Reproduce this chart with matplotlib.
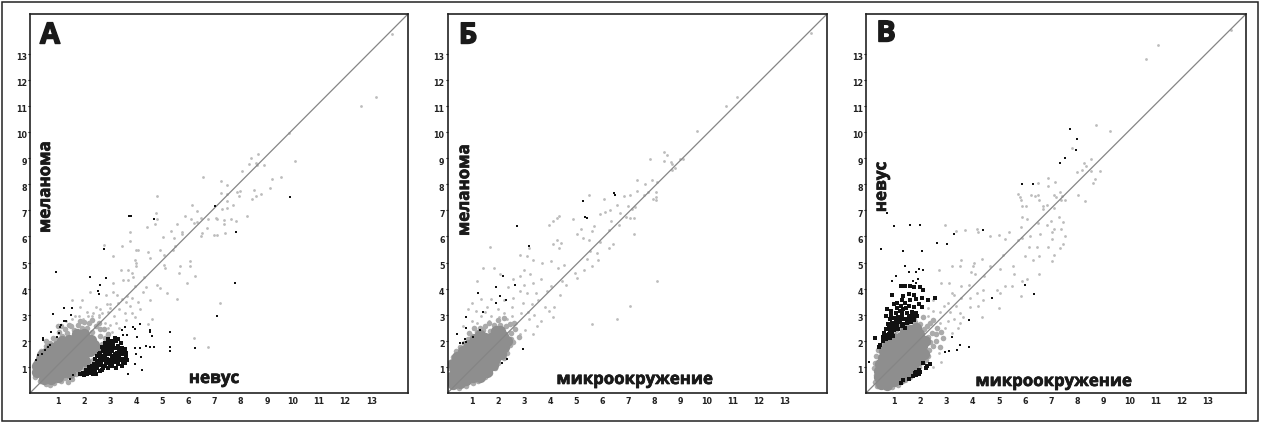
import matplotlib
matplotlib.use("Agg")
import matplotlib.pyplot as plt
import matplotlib.patheffects as pe
from matplotlib.patches import Rectangle
from matplotlib.transforms import ScaledTranslation

W, H = 1262, 424
tick_values = list(range(1, 14))
panel_letters = ["А", "Б", "В"]

# ---- Panel A: nevus (x) vs melanoma (y)
a_core = [(.45,.55),(.72,.52),(.98,.6),(.2,.8),(.46,.82),(.7,.78),(.96,.82),(1.22,.8),(1.45,.78),(.18,1.05),(.44,1.07),(.7,1.03),
 (.95,1.06),(1.2,1.03),(1.46,1.05),(1.72,1.02),(.33,1.3),(.6,1.28),(.85,1.32),(1.1,1.29),(1.35,1.31),(1.6,1.28),(1.86,1.3),(2.02,1.22),
 (.55,1.55),(.8,1.53),(1.05,1.56),(1.3,1.54),(1.55,1.56),(1.8,1.53),(2.05,1.56),(2.24,1.62),(.95,1.8),(1.2,1.78),(1.45,1.81),(1.7,1.79),
 (1.95,1.82),(2.2,1.8),(1.42,2.03),(1.66,2.05),(1.9,2.04),(2.1,2.05),(2.25,2.02),(2.38,1.85),(2.0,2.25),(1.72,2.25),(1.15,1.98),(.72,1.72),(.4,1.45),(2.42,1.68)]
a_halo = [(.1,.62),(.1,.98),(.14,1.18),(.3,.45),(.35,1.6),(.52,.35),(.52,1.8),(.68,1.9),(.85,.38),(.9,2.05),(1.1,.45),(1.15,2.18),(1.28,.58),(1.35,2.3),
 (1.55,.55),(1.62,2.42),(1.7,.72),(1.85,.78),(1.9,2.5),(1.98,.95),(2.1,2.5),(2.2,1.1),(2.3,2.35),(2.35,1.28),(2.6,2.2),(2.55,1.5),(2.7,1.88),(2.45,2.55),
 (2.78,2.1),(2.2,2.68),(2.0,2.72),(1.75,2.62),(1.5,2.55),(1.25,2.45),(1.05,2.35),(1.0,2.55),(2.9,2.25),(2.62,2.45),(.8,2.1),(1.85,2.75),(2.3,2.8),(2.55,2.7),(2.75,2.45),(.55,2.0),
 (2.65,1.65),(1.4,2.6),(1.1,2.55),(.25,1.4),(1.38,.42),(.7,.32)]
a_gray = [(13.18,11.33),(12.59,10.99),(13.79,13.77),(9.86,9.96),(10.09,8.87),(8.67,9.15),(8.38,9.0),(8.32,8.78),(8.58,8.83),(8.62,8.74),(8.87,8.73),
 (8.06,8.51),(6.56,8.27),(7.26,8.13),(7.46,7.96),(7.23,7.68),(7.46,7.62),(7.87,7.72),(7.96,7.74),(7.94,7.55),(8.51,7.77),(9.18,8.19),(9.54,8.28),
 (9.13,7.87),(8.77,7.62),(8.58,7.53),(8.41,7.45),(4.79,7.53),(6.12,7.21),(7.49,7.36),(7.29,7.06),(7.49,7.08),(7.71,7.19),(6.33,6.96),(4.76,6.91),
 (5.85,6.78),(4.79,6.65),(6.46,6.72),(6.33,6.56),(6.21,6.53),(6.08,6.65),(6.74,6.65),(7.04,6.72),(7.1,6.65),(7.36,6.63),(7.62,6.65),(7.82,6.59),
 (8.23,6.78),(4.73,6.46),(4.41,6.36),(5.56,6.46),(3.74,6.18),(5.31,6.21),(5.73,6.17),(5.76,6.1),(6.72,6.33),(6.53,6.14),(6.46,6.01),(7.36,6.46),
 (7.38,6.14),(6.97,6.04),(7.1,6.04),(5.03,5.96),(5.44,5.94),(2.76,5.68),(3.44,5.64),(3.76,5.81),(3.99,5.49),(4.08,5.49),(4.46,5.42),(4.91,5.49),
 (3.95,5.1),(3.99,4.97),(3.99,4.87),(3.12,5.23),(3.4,4.72),(3.69,4.72),(3.5,4.33),(3.69,4.33),(3.82,4.59),(3.88,4.46),(4.53,5.17),(5.04,5.29),
 (5.42,5.49),(5.49,5.62),(5.1,4.78),(5.04,4.91),(5.62,4.59),(6.06,5.04),(6.06,4.87),(5.68,4.85),(6.26,4.49),(5.94,4.23),(4.78,4.14),(4.91,4.01),
 (5.17,3.82),(5.55,3.59),(7.22,3.46),(6.19,2.12),(6.73,1.77),(4.27,3.88),(4.08,3.5),(4.53,3.56),(1.9,3.56),(1.55,3.56),(2.22,3.88),(3.12,3.88),
 (3.25,3.75),(2.86,3.42),(3,3.42),(2.6,3.2),(3.75,3.32),(3.82,3.05),(4.14,3.2),(1.85,3.3),(2.1,3.12),(2.3,2.95),(2.45,3.3),(2.7,3.05),(2.9,3.1),
 (3.15,2.95),(3.35,3.2),(3.55,3.05),(3.6,2.8),(3.95,2.9),(4.6,2.85),(4.45,2.65),(1.8,2.95),(1.95,2.85),(2.15,2.95),(2.35,3.05),(2.55,2.9),(2.8,2.7),
 (3,2.6),(3.2,2.7),(3.35,2.5),(3.05,2.35),(2.9,2.5),(1.55,2.85),(1.65,2.95),(1.3,2.75),(3.45,3.6),(3.1,4.2),(2.85,3.75),(3.65,3.7),(4.35,4.05),
 (3.95,4.1),(4.3,4.45),(3.3,3.45),(3.6,3.5),(3.85,3.65),(2.55,2.98),(2.98,3.25)]
a_black = [(.91,4.62),(2.22,4.44),(2.82,4.42),(2.6,4.14),(2.54,3.92),(2.58,3.8),(1.22,3.27),(1.53,3.24),(.81,3.01),(1.23,2.77),(1.32,2.77),(1.51,2.99),
 (1.13,2.6),(1.06,2.52),(.74,2.35),(1.04,2.28),(.96,2.15),(.42,2.09),(.42,2.02),(.49,1.64),(.4,1.49),(.23,1.45),(.14,1.26),(.68,1.83),(.6,1.78),
 (5.29,2.35),(4.53,2.41),(4.53,2.32),(4.59,2.18),(3.56,2.54),(3.88,2.54),(3.95,2.45),(3.44,2.41),(4.14,2.63),(4.01,2.15),(3.63,2.22),(3.48,2.22),
 (4.37,1.79),(4.53,1.77),(4.69,1.76),(5.27,1.77),(5.27,1.62),(6.26,1.74),(3.95,1.71),(4.12,1.73),(3.99,1.51),(4.18,1.38),(3.95,1.13),(4.2,.9),(3.69,.72),
 (1.45,.55),(1.58,.68),(7.77,4.23),(7.09,2.95),(7.81,6.15),(2.76,5.51),(3.73,6.77),(3.8,6.77),(4.66,6.65),(7.03,7.15),(9.88,7.5)]
a_black_dense = [(1.85,.72),(1.95,.78),(2.0,.68),(2.1,.72),(2.15,.85),(2.05,.9),(2.25,.78),(2.35,.72),(2.45,.72),(2.3,.92),(2.42,.88),(2.2,1.0),(2.5,.95),(2.6,.85),(2.72,.95),
 (2.55,1.08),(2.38,1.12),(2.66,1.1),(2.78,1.02),(2.9,.95),(3.05,1.02),(3.2,.95),(3.0,1.12),(2.85,1.15),(2.72,1.25),(2.52,1.22),(2.62,1.35),(2.42,1.32),
 (2.88,1.32),(3.02,1.28),(3.15,1.2),(3.3,1.12),(3.45,1.05),(3.55,1.15),(3.38,1.25),(3.5,1.32),(3.65,1.25),(3.25,1.38),(3.1,1.42),(2.95,1.48),(2.78,1.48),
 (2.62,1.55),(2.5,1.42),(3.4,1.48),(3.55,1.48),(3.62,1.4),(3.25,1.55),(3.05,1.6),(2.88,1.65),(2.72,1.62),(2.82,1.78),(3.0,1.75),(3.15,1.72),(3.35,1.65),
 (3.45,1.72),(3.58,1.68),(3.28,1.8),(3.12,1.88),(2.95,1.9),(3.22,1.98),(3.05,2.0),(3.3,2.05),(3.4,1.9),(3.18,2.12),(2.9,2.05),(3.62,1.55),(2.68,1.75),
 (2.28,1.05),(2.48,1.15),(2.6,1.22),(2.8,1.38),(2.95,1.22),(3.1,1.32),(3.22,1.28),(2.7,1.42),(2.55,1.5),(2.85,1.55),(3.0,1.52),(3.18,1.48),(3.32,1.42),(2.95,1.68),(3.1,1.78),(2.78,1.9),
 (3.38,1.55),(3.5,1.6),(3.5,1.2),(3.3,1.72),(2.9,1.82),(3.05,1.42),(2.4,1.0),(2.68,.88),(2.1,.82)]

# ---- Panel B: microenvironment (x) vs melanoma (y)
b_core = [(.3,.35),(.55,.38),(.8,.5),(1.05,.6),(.22,.6),(.47,.62),(.72,.65),(.97,.75),(1.22,.82),(1.45,.98),(.35,.87),(.6,.9),(.85,.93),(1.1,.97),(1.35,1.08),
 (1.6,1.15),(.48,1.12),(.73,1.15),(.98,1.18),(1.23,1.22),(1.48,1.28),(1.72,1.35),(1.88,1.32),(.68,1.38),(.92,1.4),(1.17,1.43),(1.42,1.47),(1.67,1.52),(1.92,1.5),
 (.9,1.62),(1.15,1.65),(1.4,1.68),(1.65,1.72),(1.9,1.72),(2.08,1.7),(1.15,1.85),(1.4,1.9),(1.65,1.92),(1.9,1.95),(2.12,1.92),(1.5,2.1),(1.75,2.12),(2.0,2.15),(2.2,2.2),(1.95,2.38),
 (.3,1.12),(.45,1.38),(.65,1.6),(.88,1.85),(1.12,2.05),(1.32,2.22),(2.12,1.5),(2.25,1.75),(1.8,1.08),(1.58,.82),(1.32,.62),(2.35,2.0),(2.1,2.38)]
b_halo = [(.12,.42),(.15,.7),(.14,.95),(.18,1.2),(.3,1.38),(.38,1.6),(.55,1.78),(.72,1.9),(.85,2.05),(1.0,2.2),(1.2,2.35),(1.42,2.4),(1.7,2.38),(1.85,2.62),
 (2.1,2.62),(2.3,2.58),(2.5,2.3),(2.52,2.05),(2.45,1.85),(2.6,1.95),(2.35,1.55),(2.22,1.35),(2.02,1.15),(1.88,.95),(1.72,.75),(1.5,.62),(1.25,.45),(1.05,.38),(.78,.28),
 (.5,.2),(2.65,2.45),(2.8,2.15),(1.52,2.55),(1.3,2.5),(1.65,2.7),(2.02,2.78),(2.25,2.88),(2.45,2.65),(2.62,2.7),(1.1,2.5),(.9,2.3)]
b_gray = [(8.69,8.53),(14.0,13.8),(11.15,11.33),(10.75,11.0),(9.65,10.05),(8.35,9.25),(8.5,9.1),(8.97,8.98),(9.1,8.95),(7.85,8.95),(8.35,8.88),(8.62,8.85),(8.68,8.78),
 (8.8,8.63),(7.32,8.15),(7.35,7.75),(7.9,8.15),(7.65,8.0),(8.1,8.08),(8.05,7.72),(7.75,7.7),(8.05,7.5),(8.08,7.4),(7.95,7.42),(7.6,7.58),(5.5,7.6),(6.05,7.45),(6.85,7.55),(7.05,7.57),(6.55,7.2),
 (7.0,7.15),(7.15,7.05),(7.25,7.12),(6.3,7.02),(6.1,6.95),(6.9,6.75),(5.9,6.85),(6.7,6.88),(7.05,6.72),(7.2,6.72),(4.35,6.8),(4.1,6.6),(4.25,6.7),(4.9,6.68),(3.95,6.45),(5.7,6.4),
 (6.35,6.6),(6.65,6.45),(7.2,6.1),(6.25,6.25),(5.6,6.2),(5.2,6.3),(5.05,6.1),(5.25,5.95),(5.5,5.85),(6.25,5.55),(6.4,5.7),(5.9,5.8),(1.72,5.6),(4.1,5.7),(4.25,5.85),(4.42,5.75),(4.35,5.55),
 (5.42,5.15),(5.85,5.1),(5.55,5.45),(5.8,5.35),(2.85,5.3),(3.2,5.55),(3.1,5.25),(3.35,5.1),(3.7,5.0),(4.05,5.05),(4.3,4.8),(4.55,4.9),(5.6,4.85),(5.3,4.7),(4.95,4.6),(5.05,4.4),(4.45,4.3),
 (4.6,4.15),(8.1,4.3),(7.05,3.35),(5.6,2.65),(6.55,2.85),(1.45,4.8),(1.85,4.8),(1.2,4.3),(2.1,4.55),(2.6,4.35),(2.85,4.5),(3.0,4.7),(3.25,4.55),(3.65,4.35),(3.35,4.2),(3.0,4.15),(2.85,3.9),
 (3.1,3.85),(3.45,3.85),(3.9,3.9),(4.05,4.1),(4.4,3.75),(3.8,3.3),(4.15,3.3),(3.95,3.15),(4.1,2.9),(3.65,2.75),(3.3,3.4),(2.95,3.45),(2.6,3.65),(2.55,3.3),(2.25,3.55),(1.75,3.6),(1.35,3.6),(1.0,3.45),
 (.85,3.2),(1.15,3.15),(1.5,3.1),(1.75,2.95),(2.0,3.2),(2.25,3.05),(2.55,2.95),(2.9,3.05),(3.2,2.85),(3.5,2.55),(3.35,2.25),(3.05,2.4),(2.85,2.25),(2.7,2.7),(2.35,2.85),(2.05,2.9),(1.65,2.75),
 (1.35,2.95),(1.2,2.7),(1.05,2.45),(1.5,2.55),(1.0,2.75),(.65,2.55),(3.4,3.0),(3.55,3.55),(2.4,4.05),(1.6,3.3),(3.15,3.1)]
b_black = [(6.45,7.65),(6.5,7.6),(5.25,7.35),(5.35,6.75),(5.4,6.7),(2.75,6.4),(3.2,5.65),(2.2,4.5),(2.65,4.15),(1.95,4.05),(2.1,3.7),(2.3,3.55),(1.25,3.85),(1.93,3.45),(1.45,3.1),(.8,2.9),(.8,2.5),(1.3,2.4),(.45,2.25),
 (.75,2.05),(1.05,2.15),(.55,1.9),(.68,1.9),(.8,1.95),(2.95,1.7),(2.35,1.3),(2.18,1.15)]

# ---- Panel C: microenvironment (x) vs nevus (y)
c_core = [(.48,.35),(.72,.3),(.98,.45),(1.2,.55),(.42,.6),(.67,.58),(.92,.65),(1.16,.75),(1.38,.85),(.42,.85),(.66,.85),(.9,.88),(1.15,.98),(1.4,1.05),(1.6,1.15),(.45,1.1),(.68,1.1),(.92,1.13),(1.17,1.2),
 (1.42,1.27),(1.66,1.35),(1.85,1.4),(.55,1.35),(.78,1.35),(1.02,1.38),(1.27,1.45),(1.52,1.5),(1.76,1.58),(1.98,1.55),(.62,1.6),(.87,1.62),(1.12,1.65),(1.37,1.7),(1.62,1.75),(1.87,1.78),(2.05,1.8),(.75,1.85),
 (1.0,1.88),(1.25,1.92),(1.5,1.95),(1.75,2.0),(1.98,2.02),(1.0,2.12),(1.25,2.15),(1.5,2.18),(1.75,2.22),(1.95,2.25),(1.4,2.38),(1.65,2.42),(1.85,2.48),(2.12,1.5),(2.18,2.0),(1.95,1.25),(1.72,.98),(1.52,.78),(1.3,.62)]
c_halo = [(.25,.42),(.28,.7),(.22,.95),(.25,1.15),(.3,1.4),(.38,1.65),(.52,1.85),(.62,2.05),(.82,2.25),(1.05,2.4),(1.25,2.55),(1.5,2.65),(1.8,2.72),(2.0,2.65),(2.12,2.45),(2.3,2.15),(2.38,1.95),(2.32,1.65),(2.28,1.4),
 (2.1,1.2),(1.95,1.0),(1.75,.82),(1.62,.62),(1.42,.48),(1.15,.3),(.9,.22),(.32,.25),(2.5,1.8),(2.6,2.0),(2.45,2.3),(2.65,2.5),(2.35,2.7),(2.8,2.35),(2.85,2.1),(2.5,2.8),(2.1,2.9),(1.75,2.85),(2.75,1.75),(1.12,2.6),(2.6,2.25),(2.25,2.55),(2.2,1.25)]
c_gray = [(13.9,13.9),(11.1,13.35),(10.65,12.8),(8.72,10.25),(9.25,10.05),(7.82,9.4),(8.55,8.95),(8.25,8.8),(8.35,8.7),(8.55,8.5),(8.0,8.45),(8.2,8.55),(8.9,8.5),(8.7,8.2),(8.62,8.05),(6.9,8.25),(7.15,8.1),
 (6.5,8.05),(6.9,7.95),(7.35,7.7),(7.42,7.55),(7.12,7.6),(8.05,7.6),(8.3,7.35),(5.75,7.62),(5.85,7.4),(5.8,7.5),(6.25,7.6),(6.4,7.55),(6.5,7.6),(6.55,7.4),(7.2,7.5),(7.4,7.4),(7.55,7.38),(5.9,7.15),(6.05,7.15),
 (6.7,7.15),(6.85,7.2),(6.7,7.05),(7.1,7.1),(7.3,6.75),(7.45,6.55),(5.9,6.75),(6.1,6.65),(6.5,6.5),(6.85,6.45),(7.0,6.6),(7.1,6.3),(7.05,6.15),(7.4,6.3),(6.2,6.0),(5.9,5.95),(6.6,6.1),(5.25,5.9),(7.05,5.9),(7.55,6.0),
 (7.35,5.55),(7.45,5.7),(2.95,6.45),(3.35,6.2),(3.7,6.25),(4.15,6.3),(4.2,6.15),(4.65,6.0),(5.0,6.05),(5.4,6.15),(5.85,6.35),(5.75,5.85),(6.45,5.6),(6.9,5.6),(6.15,5.6),(6.0,5.25),(6.55,5.25),(6.3,5.1),(7.1,5.3),(7.05,5.05),
 (5.15,5.3),(4.35,5.15),(4.05,5.0),(4.0,4.85),(3.55,5.1),(2.7,4.7),(3.2,4.85),(3.5,4.85),(3.95,4.65),(4.1,4.55),(4.45,4.5),(4.65,4.85),(5.55,4.85),(5.05,4.75),(5.6,4.55),(5.9,4.3),(6.1,4.35),(6.55,4.55),(5.5,4.1),(5.25,4.1),
 (4.95,3.95),(5.05,3.85),(5.85,3.7),(4.4,3.95),(3.85,4.15),(3.55,4.1),(3.1,4.2),(2.8,4.2),(3.2,3.85),(3.3,3.75),(3.55,3.65),(3.9,3.65),(4.15,3.85),(4.4,3.55),(3.9,3.3),(4.2,3.35),(5.0,3.25),(4.35,2.9),(3.35,3.35),
 (3.5,3.05),(3.15,3.1),(2.9,3.35),(2.75,3.1),(3.65,2.9),(3.3,2.85),(3.05,2.75),(2.95,2.5),(2.75,2.7),(3.05,3.45),(2.5,3.55),(2.5,3.15),(2.3,2.95),(3.2,2.3),(3.45,2.5),(3.5,2.7),(2.7,1.55),(2.8,1.2),(2.5,1.0),(2.3,3.25)]
c_black = [(7.75,10.1),(8.0,9.72),(7.95,9.3),(7.35,8.8),(7.55,9.0),(5.9,8.0),(.72,6.9),(.98,6.4),(2.0,6.45),(1.6,6.45),(3.3,6.1),(2.65,5.75),(3.0,5.7),(4.4,6.25),(6.3,8.0),(.5,5.5),(1.32,5.45),(2.08,5.45),(1.42,4.85),(1.55,4.65),
 (1.95,4.75),(2.1,4.7),(1.85,4.65),(.92,4.3),(1.07,4.5),(1.7,4.3),(1.9,4.35),(1.85,4.2),(.02,1.2),(3.85,1.75),(3.4,1.65),(3.5,1.85),(3.2,2.15),(2.95,1.58),(3.1,1.62),(3.85,2.8),(4.75,3.65),(6.0,4.15),(6.35,3.8)]
c_black_dense = [(1.27,4.1),(1.4,4.1),(1.6,4.1),(1.75,4.05),(2.0,4.05),(2.1,3.95),(.9,3.75),(1.35,3.7),(1.3,3.55),(1.55,3.8),(1.75,3.75),(1.85,3.6),(2.05,3.65),(2.3,3.55),
 (2.55,3.65),(1.0,3.4),(1.12,3.45),(1.25,3.35),(1.42,3.45),(1.6,3.55),(1.55,3.35),(1.75,3.3),(1.95,3.4),(2.05,3.3),(.72,3.2),(.88,3.15),(1.05,3.05),(1.2,3.15),(1.35,3.2),(1.5,3.05),(1.68,3.1),(1.82,3.05),(1.88,2.95),(.7,2.95),
 (.82,2.85),(1.0,2.88),(1.15,2.9),(1.28,2.95),(1.45,2.85),(1.6,2.85),(1.75,2.78),(.75,2.65),(.92,2.7),(1.05,2.6),(1.2,2.72),(1.35,2.65),(1.5,2.68),(1.42,2.5),(.7,2.45),(.85,2.4),(1.0,2.42),(1.15,2.45),(.62,2.3),(.8,2.25),(.95,2.2),
 (.85,2.1),(.55,2.15),(.7,2.05),(.25,2.1),(.58,2.0),(.45,1.85),(.42,1.75),(2.1,1.15),(2.25,1.05),(2.35,1.1),(2.2,.95),(1.95,.9),(1.85,.8),(1.95,.72),(1.82,.68),(1.7,.65),(1.55,.55),(1.32,.5),(1.25,.4),
 (1.12,2.58),(1.28,2.55),(1.38,2.82),(.95,2.55),(1.65,2.72),(1.55,2.95),(1.72,2.95),(1.1,3.25),(1.3,3.05),(1.45,3.25),(.88,2.98),(1.22,2.85),(1.05,2.75),(.78,2.55),(.9,2.32),(.72,2.22),(2.0,.82),(1.78,.75)]

# ---- geometry of the three frames, in pixels (left, right, x=0 position)
frames = [(30, 408, 32.0), (447.5, 827, 445.6), (866, 1246, 868.2)]
top, bottom = 14, 393
px_per_unit = 26.1

fig = plt.figure(figsize=(W / 100, H / 100), dpi=100, facecolor="white")
fig.add_artist(Rectangle((2 / W, 1 - 421 / H), 1256 / W, 419 / H, transform=fig.transFigure,
                         fill=False, ec="#222222", lw=1.1))

def split(pairs):
    return [p[0] for p in pairs], [p[1] for p in pairs]

panels = [(a_core, a_halo, a_gray, a_black, a_black_dense), (b_core, b_halo, b_gray, b_black, []),
          (c_core, c_halo, c_gray, c_black, c_black_dense)]
for (l, r, x0), (core, halo, gray, black, dense) in zip(frames, panels):
    ax = fig.add_axes([l / W, 1 - bottom / H, (r - l) / W, (bottom - top) / H])
    xlim = ((l - x0) / px_per_unit, (r - x0) / px_per_unit)
    ylim = (0, (bottom - top) / px_per_unit)
    ax.set_xlim(*xlim)
    ax.set_ylim(*ylim)
    ax.scatter(*split(gray), s=4, c="#bcbcbc", linewidths=0, zorder=2)
    ax.scatter(*split(halo), s=16, c="#ababab", linewidths=0, zorder=2)
    ax.scatter(*split(core), s=66, c="#8e8e8e", linewidths=0, zorder=2.1)
    ax.plot(xlim, ylim, color="#858585", lw=0.9, zorder=2.2)
    ax.scatter(*split(black), s=4.5, c="#111111", marker="s", linewidths=0, zorder=3)
    if dense:
        ax.scatter(*split(dense), s=8, c="#111111", marker="s", linewidths=0, zorder=3)
    ax.set_xticks(tick_values)
    ax.set_yticks(tick_values)
    ax.set_xticklabels(tick_values, fontsize=5.8, fontweight="bold", family="DejaVu Sans", color="#222222")
    ax.set_yticklabels(tick_values, fontsize=5.8, fontweight="bold", family="DejaVu Sans", color="#222222")
    ax.tick_params(axis="x", length=0, pad=3)
    ax.tick_params(axis="y", length=1.5, width=0.8, pad=0.6)
    shift = ScaledTranslation(0, -3 / 100, fig.dpi_scale_trans)
    for lab in ax.get_yticklabels():
        lab.set_transform(lab.get_transform() + shift)
    for s in ax.spines.values():
        s.set_linewidth(1.2)
        s.set_color("#222222")

def label(px, py, text, size, rot=0, stroke=0.5):
    fig.text(px / W, 1 - py / H, text, fontsize=size, rotation=rot, ha="center", va="center",
             family="Open Sans", fontweight="bold", color="#1a1a1a",
             path_effects=[pe.withStroke(linewidth=stroke, foreground="#1a1a1a")])

for px, py, letter in zip([50, 468, 886], [36, 36, 34], panel_letters):
    label(px, py, letter, 21, stroke=1.0)
label(45, 187, "меланома", 12.2, 90)
label(464, 190, "меланома", 12.2, 90)
label(881, 187, "невус", 12.2, 90)
label(214, 378, "невус", 12.2)
label(634, 379, "микроокружение", 12.1)
label(1053, 381, "микроокружение", 12.1)

fig.savefig("out.png", dpi=100)
